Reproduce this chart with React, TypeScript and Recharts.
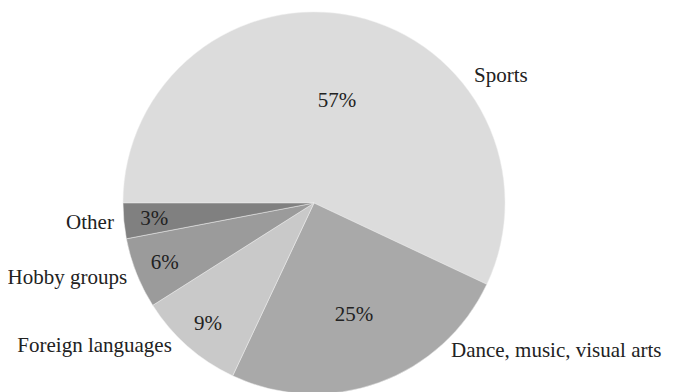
import {Cell, Pie, PieChart} from "recharts";

const categories = ["Sports", "Dance, music, visual arts", "Foreign languages", "Hobby groups", "Other"];
const shares = [57, 25, 9, 6, 3];
const sliceColors = ["#dcdcdc", "#a9a9a9", "#c9c9c9", "#9b9b9b", "#808080"];

const data = categories.map((name, i) => ({name, value: shares[i]}));

const RADIAN = Math.PI / 180;
const FONT = '"Times New Roman", Times, Tinos, "Liberation Serif", "Nimbus Roman", "Noto Serif", "DejaVu Serif", FreeSerif, serif';

const renderLabel = (props: any) => {
    const {cx, cy, midAngle, outerRadius, percent, name, value} = props;
    // percentage inside the slice
    const inner = outerRadius * (percent > 0.5 ? 0.555 : percent > 0.2 ? 0.62 : 0.84);
    const px = cx + inner * Math.cos(-midAngle * RADIAN);
    const py = cy + inner * Math.sin(-midAngle * RADIAN);

    // category name outside, pulled toward the horizontal
    const right = Math.cos(midAngle * RADIAN) > 0;
    const ang = right ? (midAngle > 0 ? midAngle / 2 : midAngle * 0.67) : Math.min(midAngle, -135);
    const outer = outerRadius + (right && midAngle > 0 ? 14 : 10);
    const nx = cx + outer * Math.cos(-ang * RADIAN);
    const ny = cy + outer * Math.sin(-ang * RADIAN);

    return (
        <g style={{fontFamily: FONT}}>
            <text x={px} y={py} textAnchor="middle" dominantBaseline="central"
                  fontFamily={FONT} fontSize={21} fill="#222">{`${value}%`}</text>
            <text x={nx} y={ny} textAnchor={right ? "start" : "end"} dominantBaseline="central"
                  fontFamily={FONT} fontSize={21} fill="#222">{name}</text>
        </g>
    );
};

const App = () => {
    return (
        <div style={{fontFamily: FONT}}>
            <PieChart width={679} height={392} margin={{top: 0, right: 0, bottom: 0, left: 0}}>
                <Pie
                    data={data}
                    dataKey="value"
                    nameKey="name"
                    cx={306}
                    cy={195}
                    outerRadius={191}
                    startAngle={180}
                    endAngle={-180}
                    stroke="#eeeeee"
                    strokeWidth={0.5}
                    label={renderLabel}
                    labelLine={false}
                    isAnimationActive={false}
                >
                    {data.map((d, i) => <Cell key={d.name} fill={sliceColors[i]}/>)}
                </Pie>
            </PieChart>
        </div>
    );
};

export default App;
